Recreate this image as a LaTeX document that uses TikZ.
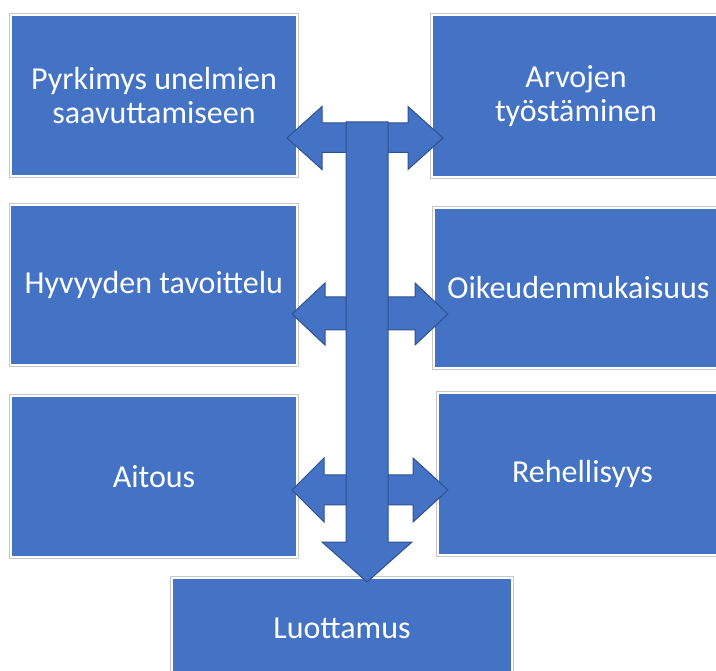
\documentclass[tikz,border=0pt]{standalone}
\usepackage{fontspec}
\setmainfont{Carlito}
\definecolor{boxblue}{HTML}{4472C4}
\definecolor{edgeblue}{HTML}{2F528F}
\definecolor{rimgray}{HTML}{C8C8C8}
\begin{document}
\begin{tikzpicture}[x=1pt,y=-1pt,
  valuebox/.style={rectangle, fill=boxblue, draw=white, line width=1.5pt,
    inner sep=0pt, outer sep=0pt,
    preaction={draw=rimgray, line width=4pt},
    text=white, align=center, font=\fontsize{32}{34}\selectfont},
  blockarrow/.style={fill=boxblue, draw=edgeblue, line width=1pt, line join=miter}]
\useasboundingbox (0,0) rectangle (716,671);
\clip (0,0) rectangle (716,671);

% value boxes
\node[valuebox, minimum width=286pt, minimum height=161pt] (dreams) at (154,95.5)
  {Pyrkimys unelmien\\saavuttamiseen};
\node[valuebox, minimum width=288pt, minimum height=162pt] (values) at (576,96)
  {Arvojen\\työstäminen};
\node[valuebox, minimum width=286.5pt, minimum height=160pt] (good) at (153.75,285)
  {Hyvyyden tavoittelu};
\node[valuebox, minimum width=289pt, minimum height=160pt] (justice) at (578.5,288)
  {Oikeudenmukaisuus};
\node[valuebox, minimum width=286pt, minimum height=161pt] (genuine) at (154,476.5)
  {Aitous};
\node[valuebox, minimum width=289pt, minimum height=162pt] (honest) at (582.5,474)
  {Rehellisyys};
\node[valuebox, minimum width=340pt, minimum height=100pt] (trust) at (342,628)
  {Luottamus};

% side-pointing double arrows
\draw[blockarrow] (287,138) -- (322,106.5) -- (322,123) -- (408,123) -- (408,106.5)
  -- (443,138) -- (408,169.5) -- (408,152.5) -- (322,152.5) -- (322,169.5) -- cycle;
\draw[blockarrow] (292,314) -- (325,283) -- (325,297) -- (415,297) -- (415,283)
  -- (448,314) -- (415,345) -- (415,330) -- (325,330) -- (325,345) -- cycle;
\draw[blockarrow] (292,490) -- (324,458) -- (324,475) -- (413,475) -- (413,458)
  -- (448,490) -- (413,522) -- (413,505) -- (324,505) -- (324,522) -- cycle;

% central downward arrow
\draw[blockarrow] (346,122) -- (388,122) -- (388,542) -- (412,542) -- (367,582)
  -- (322,542) -- (346,542) -- cycle;
\end{tikzpicture}
\end{document}
